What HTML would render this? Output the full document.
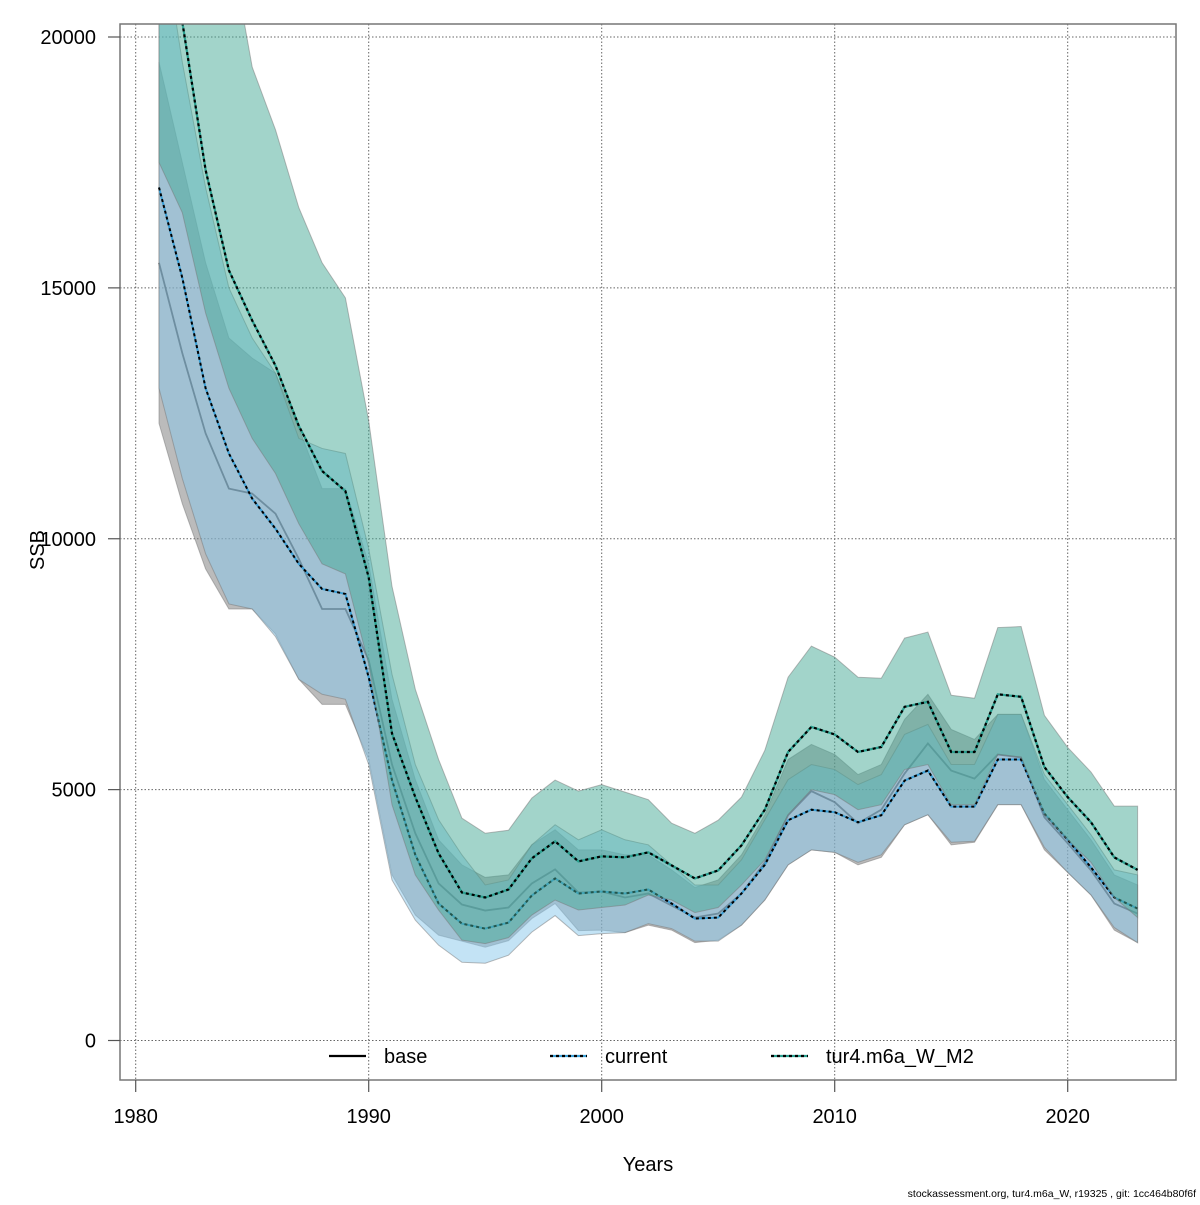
<!DOCTYPE html>
<html><head><meta charset="utf-8"><style>
body{margin:0;background:#fff;}
svg text{font-family:"Liberation Sans",sans-serif;fill:#000;}
</style></head><body>
<svg id="chart" width="1200" height="1200" xmlns="http://www.w3.org/2000/svg">
<defs><clipPath id="clip"><rect x="120" y="24" width="1056" height="1056"/></clipPath></defs>
<g id="grid"></g>
<g id="bands" clip-path="url(#clip)"></g>
<rect x="120" y="24" width="1056" height="1056" fill="none" stroke="#777" stroke-width="1.5"/>
<g id="axes"></g>
<text x="648" y="1171" font-size="20" text-anchor="middle">Years</text>
<text transform="translate(44,550) rotate(-90)" font-size="20" text-anchor="middle">SSB</text>
<text x="1196" y="1197" font-size="10.5" text-anchor="end">stockassessment.org, tur4.m6a_W, r19325 , git: 1cc464b80f6f</text>
<g id="legend"></g>
</svg>
<script>
const years=[];for(let y=1981;y<=2023;y++)years.push(y);
const baseLine=[15500,13700,12100,11000,10900,10500,9600,8600,8600,7580,5500,4130,3130,2710,2590,2650,3130,3410,2950,2970,2850,2930,2690,2450,2530,2930,3550,4490,4970,4750,4330,4600,5320,5920,5380,5220,5700,5640,4450,3930,3390,2730,2530];
const baseLo=[12300,10700,9400,8600,8600,8100,7200,6700,6700,5600,3300,2500,2100,1980,1860,1990,2430,2730,2190,2200,2150,2300,2200,1950,2000,2300,2800,3500,3800,3750,3500,3650,4300,4500,3900,3950,4700,4700,3800,3350,2900,2200,1950];
const baseHi=[19500,17500,15500,14000,13600,13300,12200,11000,11000,9500,6800,5200,4000,3500,3250,3300,3900,4200,3800,3800,3700,3700,3400,3050,3200,3700,4500,5600,5900,5700,5300,5500,6400,6900,6200,6000,6500,6500,5200,4600,4000,3300,3100];
const curLine=[17000,15200,13000,11700,10800,10200,9500,9000,8900,7240,5190,3700,2730,2330,2230,2350,2890,3230,2930,2970,2930,3010,2730,2430,2450,2930,3500,4390,4600,4550,4350,4490,5180,5380,4660,4660,5600,5600,4520,4000,3450,2850,2630];
const curLo=[13000,11200,9700,8700,8600,8050,7200,6900,6800,5500,3200,2400,1900,1560,1540,1700,2160,2490,2090,2130,2150,2330,2230,1980,1980,2300,2800,3500,3800,3750,3550,3700,4300,4500,3950,3970,4700,4700,3850,3350,2900,2250,1950];
const curHi=[22500,19500,17000,15000,14000,13300,12000,11800,11700,9800,7300,5500,4400,3700,3100,3200,3900,4300,4000,4200,4000,3900,3500,3100,3100,3600,4400,5200,5500,5400,5100,5300,6100,6300,5500,5500,6500,6500,5300,4700,4100,3400,3300];
const turLine=[23000,20300,17350,15350,14350,13450,12250,11350,10950,9230,6120,4850,3730,2950,2850,3010,3630,3970,3570,3670,3650,3750,3490,3230,3390,3890,4600,5750,6250,6100,5750,5850,6650,6750,5750,5750,6900,6850,5450,4850,4350,3650,3400];
const turLo=[17500,16500,14500,13000,12000,11300,10300,9500,9300,7500,4700,3300,2600,2000,1930,2050,2500,2800,2600,2650,2700,2900,2800,2550,2650,3100,3600,4500,5000,4900,4600,4700,5400,5500,4700,4700,5700,5650,4500,4000,3550,2850,2450];
const turHi=[30000,28000,25000,22000,19400,18150,16600,15500,14800,12350,9050,7000,5600,4430,4130,4190,4830,5190,4970,5100,4950,4800,4330,4130,4390,4850,5780,7240,7860,7640,7240,7220,8020,8140,6880,6820,8230,8250,6480,5840,5350,4670,4670];
const xTicks=[1980,1990,2000,2010,2020];
const yTicks=[0,5000,10000,15000,20000];
const seriesNames=["base","current","tur4.m6a_W_M2"];

const NS="http://www.w3.org/2000/svg";
const X=y=>135.7+(y-1980)*23.3;
const Y=v=>1040.5-v*0.050175;
function mk(tag,attrs,parent){const e=document.createElementNS(NS,tag);for(const k in attrs)e.setAttribute(k,attrs[k]);parent.appendChild(e);return e;}
const grid=document.getElementById('grid'),bands=document.getElementById('bands'),axes=document.getElementById('axes'),legend=document.getElementById('legend');
xTicks.forEach(t=>{const l=mk('line',{x1:X(t),x2:X(t),y1:24,y2:1080,stroke:'#666','stroke-dasharray':'1.5,2','stroke-width':1},grid);

});
yTicks.forEach(t=>{const l=mk('line',{x1:120,x2:1176,y1:Y(t),y2:Y(t),stroke:'#666','stroke-dasharray':'1.5,2','stroke-width':1},grid);

});
function band(lo,hi,fill,name){let d='';years.forEach((y,i)=>d+=(i?'L':'M')+X(y)+','+Y(hi[i]));for(let i=years.length-1;i>=0;i--)d+='L'+X(years[i])+','+Y(lo[i]);d+='Z';
const p=mk('path',{d:d,fill:fill,stroke:'rgba(120,120,120,0.5)','stroke-width':1},bands);

}
function line(vals,color,dash,name,w){const pts=years.map((y,i)=>X(y)+','+Y(vals[i])).join(' ');
const g=mk('g',{},bands);


if(dash){mk('polyline',{points:pts,fill:'none',stroke:color,'stroke-width':w},g);mk('polyline',{points:pts,fill:'none',stroke:'#000','stroke-width':w,'stroke-dasharray':'3,3'},g);}
else mk('polyline',{points:pts,fill:'none',stroke:color,'stroke-width':w},g);}
band(baseLo,baseHi,'rgba(120,120,120,0.5)','base-ci-band');
line(baseLine,'rgba(40,40,40,0.7)',false,'base-line',1.8);
band(curLo,curHi,'rgba(135,200,235,0.5)','current-ci-band');
line(curLine,'#3a9fd6',true,'current-line',2);
band(turLo,turHi,'rgba(70,170,150,0.5)','tur4-ci-band');
line(turLine,'#2aa090',true,'tur4-line',2.2);
xTicks.forEach(t=>{const l=mk('line',{x1:X(t),x2:X(t),y1:1080,y2:1092,stroke:'#555','stroke-width':1.2},axes);


const tx=mk('text',{x:X(t),y:1123,'font-size':20,'text-anchor':'middle'},axes);tx.textContent=t;

});
yTicks.forEach(t=>{const l=mk('line',{x1:108,x2:120,y1:Y(t),y2:Y(t),stroke:'#555','stroke-width':1.2},axes);


const tx=mk('text',{x:96,y:Y(t)+7,'font-size':20,'text-anchor':'end'},axes);tx.textContent=t;

});
const lx=[329,550,771],lcol=['#000','#3a9fd6','#2aa090'];
seriesNames.forEach((n,i)=>{const g=mk('g',{},legend);


mk('line',{x1:lx[i],x2:lx[i]+37,y1:1056,y2:1056,stroke:lcol[i],'stroke-width':2.2},g);
if(i>0)mk('line',{x1:lx[i],x2:lx[i]+37,y1:1056,y2:1056,stroke:'#000','stroke-width':2.2,'stroke-dasharray':'3,3'},g);
const t=mk('text',{x:lx[i]+55,y:1063,'font-size':20},g);t.textContent=n;});
</script>
</body></html>
